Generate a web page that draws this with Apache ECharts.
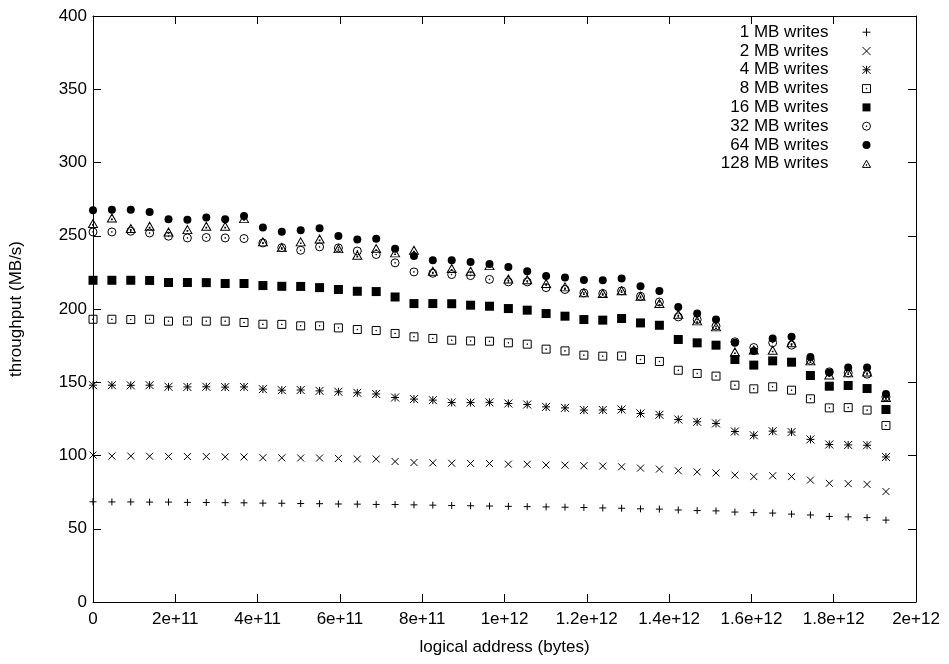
<!DOCTYPE html>
<html>
<head>
<meta charset="utf-8">
<script src="https://cdn.jsdelivr.net/npm/echarts@6/dist/echarts.min.js"></script>
<style>
  html, body { margin: 0; padding: 0; background: #fff; }
  #chart { width: 949px; height: 664px; }
</style>
</head>
<body>
<div id="chart"></div>
<script>
// Logical address of each measurement, in GB (1e9 bytes)
const addressGB = [0, 45.9, 91.8, 137.6, 183.5, 229.4, 275.3, 321.2, 367.0, 412.9,
  458.8, 504.7, 550.6, 596.4, 642.3, 688.2, 734.1, 780.0, 825.8, 871.7,
  917.6, 963.5, 1009.4, 1055.2, 1101.1, 1147.0, 1192.9, 1238.8, 1284.6, 1330.5,
  1376.4, 1422.3, 1468.2, 1514.0, 1559.9, 1605.8, 1651.7, 1697.6, 1743.4, 1789.3,
  1835.2, 1881.1, 1927.0];

// Throughput (MB/s) per write size
const writes1MB = [68.4, 68.3, 68.3, 68.2, 68.2, 68.0, 67.9, 67.8, 67.7, 67.5,
  67.4, 67.2, 67.1, 66.9, 66.8, 66.6, 66.5, 66.3, 66.1, 65.9,
  65.7, 65.5, 65.3, 65.1, 64.9, 64.7, 64.5, 64.2, 64.0, 63.6,
  63.4, 62.8, 62.4, 62.2, 61.4, 61.0, 60.7, 60.0, 59.4, 58.4,
  58.1, 57.6, 55.9];
const writes2MB = [100.3, 99.6, 99.6, 99.5, 99.4, 99.3, 99.3, 99.1, 99.0, 98.5,
  98.4, 98.3, 98.3, 98.0, 97.6, 97.6, 95.9, 95.2, 95.0, 94.7,
  94.6, 94.5, 94.1, 94.0, 93.5, 93.4, 93.0, 92.8, 92.3, 91.4,
  90.7, 89.6, 88.8, 88.1, 86.6, 85.6, 86.2, 85.6, 83.2, 81.0,
  80.8, 80.3, 75.4];
const writes4MB = [148.0, 148.0, 147.9, 148.0, 146.9, 146.8, 146.9, 146.7, 146.8, 145.3,
  144.6, 144.7, 144.1, 143.5, 142.8, 142.0, 139.6, 138.5, 137.8, 136.2,
  136.1, 136.3, 135.5, 134.8, 133.2, 132.5, 131.0, 131.1, 131.4, 128.7,
  127.8, 124.6, 123.0, 121.9, 116.4, 113.8, 116.6, 116.0, 111.0, 107.5,
  107.2, 107.0, 99.0];
const writes8MB = [193.0, 193.0, 192.8, 193.0, 191.7, 191.8, 191.7, 191.7, 190.8, 189.6,
  189.5, 188.5, 188.5, 187.1, 186.0, 185.3, 183.3, 181.0, 179.9, 178.7,
  178.2, 178.0, 176.9, 176.0, 172.6, 171.4, 168.5, 167.8, 167.9, 165.5,
  164.2, 158.2, 156.0, 154.2, 148.0, 145.5, 146.9, 144.6, 138.7, 132.5,
  132.7, 131.0, 120.5];
const writes16MB = [219.6, 219.6, 219.6, 219.5, 218.1, 218.1, 218.0, 217.4, 217.4, 216.0,
  215.5, 215.4, 214.6, 213.3, 212.1, 211.9, 208.2, 203.7, 203.7, 203.6,
  202.6, 201.9, 200.3, 199.2, 196.9, 195.1, 192.8, 192.4, 193.5, 190.5,
  188.9, 179.2, 176.9, 175.3, 165.5, 161.7, 164.6, 163.7, 154.6, 147.3,
  147.8, 145.7, 131.4];
const writes32MB = [252.6, 252.6, 253.1, 251.9, 249.7, 248.5, 248.8, 248.5, 248.1, 245.1,
  241.9, 240.1, 242.4, 241.7, 239.6, 237.2, 231.5, 225.3, 224.4, 223.5,
  222.8, 220.2, 218.5, 218.5, 214.6, 213.3, 211.0, 210.6, 212.4, 208.7,
  204.8, 194.6, 192.8, 188.3, 177.6, 173.7, 177.0, 175.3, 164.9, 157.1,
  156.4, 155.5, 140.0];
const writes64MB = [267.4, 267.8, 267.8, 266.2, 261.2, 261.0, 262.4, 261.2, 263.5, 255.6,
  252.8, 253.7, 255.1, 249.9, 247.4, 247.9, 241.2, 236.2, 233.3, 233.3,
  232.1, 230.8, 228.7, 225.8, 222.5, 221.5, 219.8, 219.6, 220.8, 215.5,
  212.3, 201.4, 196.9, 192.8, 177.0, 171.4, 179.9, 181.0, 167.3, 156.6,
  160.1, 160.1, 141.9];
const writes128MB = [258.3, 262.1, 254.9, 256.5, 252.6, 254.2, 256.5, 256.5, 261.7, 245.8,
  241.9, 245.8, 247.8, 241.2, 236.7, 241.2, 238.3, 240.1, 225.8, 227.6,
  225.8, 229.6, 220.5, 220.0, 217.4, 215.1, 211.0, 210.6, 212.4, 208.7,
  203.7, 196.4, 191.9, 187.8, 170.7, 172.0, 171.9, 176.9, 164.6, 155.0,
  156.4, 157.0, 139.6];

const seriesNames = ['1 MB writes', '2 MB writes', '4 MB writes', '8 MB writes',
  '16 MB writes', '32 MB writes', '64 MB writes', '128 MB writes'];
const xTickLabels = ['0', '2e+11', '4e+11', '6e+11', '8e+11', '1e+12',
  '1.2e+12', '1.4e+12', '1.6e+12', '1.8e+12', '2e+12'];

// Point markers in the classic plotting-terminal style
const DOT = ' M4.6 4.6 L5.4 4.6 L5.4 5.4 L4.6 5.4 Z';
const markers = [
  { symbol: 'path://M5 0 L5 10 M0 5 L10 5', size: 7, open: true },
  { symbol: 'path://M0 0 L10 10 M10 0 L0 10', size: 7, open: true },
  { symbol: 'path://M5 0 L5 10 M0 5 L10 5 M0 0 L10 10 M10 0 L0 10', size: 8, open: true },
  { symbol: 'path://M0 0 L10 0 L10 10 L0 10 Z' + DOT, size: 8, open: true },
  { symbol: 'rect', size: 9, open: false },
  { symbol: 'path://M0 5 A5 5 0 1 1 10 5 A5 5 0 1 1 0 5 Z' + DOT, size: 8, open: true },
  { symbol: 'circle', size: 8, open: false },
  { symbol: 'path://M5 0 L10 9 L0 9 Z M4.6 5.6 L5.4 5.6 L5.4 6.4 L4.6 6.4 Z', size: [9, 8], open: true }
];
const seriesValues = [writes1MB, writes2MB, writes4MB, writes8MB,
  writes16MB, writes32MB, writes64MB, writes128MB];

const FONT = 'Liberation Sans, Arial, Helvetica, sans-serif';

const series = seriesNames.map((name, k) => ({
  name: name,
  type: 'scatter',
  xAxisIndex: 0,
  yAxisIndex: 0,
  symbol: markers[k].symbol,
  symbolSize: markers[k].size,
  data: seriesValues[k].map((v, i) => [addressGB[i] * 1e9, v]),
  itemStyle: markers[k].open
    ? { color: 'rgba(0,0,0,0)', borderColor: '#000', borderWidth: 1, opacity: 1 }
    : { color: '#000', borderWidth: 0, opacity: 1 },
  emphasis: { disabled: true },
  silent: true
}));

const tickFmt = v => {
  const idx = Math.round(v / 2e11);
  return xTickLabels[idx] !== undefined ? xTickLabels[idx] : '';
};

const axisCommon = {
  axisLine: { show: true, onZero: false, lineStyle: { color: '#000', width: 1 } },
  axisTick: { show: true, inside: true, length: 8, lineStyle: { color: '#000', width: 1 } },
  splitLine: { show: false }
};

const chart = echarts.init(document.getElementById('chart'), null, { renderer: 'canvas' });
chart.setOption({
  animation: false,
  backgroundColor: '#fff',
  textStyle: { fontFamily: FONT, color: '#000' },
  grid: { left: 92, right: 33, top: 16, bottom: 62, containLabel: false },
  legend: {
    data: seriesNames,
    orient: 'vertical',
    align: 'right',
    right: 73,
    top: 18,
    itemWidth: 8,
    itemHeight: 8,
    itemGap: 0.4,
    padding: 5,
    selectedMode: false,
    itemStyle: { borderWidth: 1 },
    textStyle: { fontFamily: FONT, fontSize: 17, color: '#000', lineHeight: 18.4, padding: [0, 29, 0, 0] }
  },
  xAxis: [
    Object.assign({
      type: 'value', position: 'bottom', min: 0, max: 2e12, interval: 2e11,
      name: 'logical address (bytes)', nameLocation: 'middle', nameGap: 37,
      nameTextStyle: { fontFamily: FONT, fontSize: 17, color: '#000' },
      axisLabel: { show: true, margin: 9, fontFamily: FONT, fontSize: 17, color: '#000', formatter: tickFmt, showMinLabel: true, showMaxLabel: true }
    }, axisCommon),
    Object.assign({
      type: 'value', position: 'top', min: 0, max: 2e12, interval: 2e11,
      axisLabel: { show: false }
    }, axisCommon)
  ],
  yAxis: [
    Object.assign({
      type: 'value', position: 'left', min: 0, max: 400, interval: 50,
      name: 'throughput (MB/s)', nameLocation: 'middle', nameGap: 68, nameRotate: 90,
      nameTextStyle: { fontFamily: FONT, fontSize: 17, color: '#000' },
      axisLabel: { show: true, margin: 6, fontFamily: FONT, fontSize: 17, color: '#000' }
    }, axisCommon),
    Object.assign({
      type: 'value', position: 'right', min: 0, max: 400, interval: 50,
      axisLabel: { show: false }
    }, axisCommon)
  ],
  series: series
});
</script>
</body>
</html>
